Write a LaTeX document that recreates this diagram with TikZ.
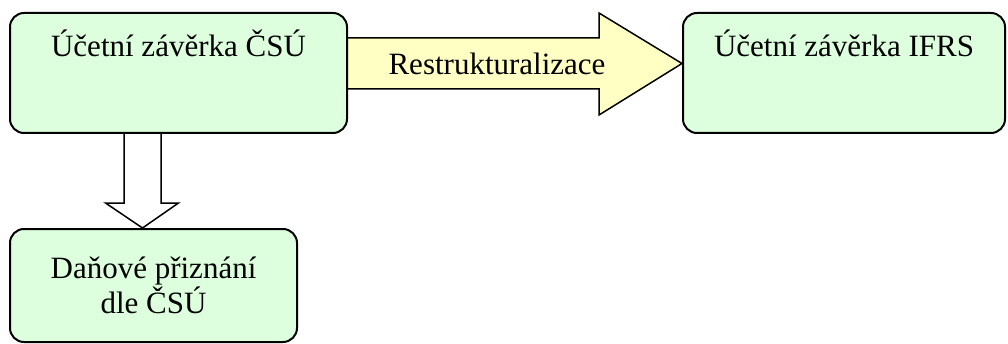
\documentclass[tikz,border=0pt]{standalone}
\usepackage{fontspec}
\setmainfont{Liberation Serif}
\usepackage{tikz}
\usetikzlibrary{calc}
\pgfdeclarelayer{background}
\pgfsetlayers{background,main}

\definecolor{boxgreen}{RGB}{221,255,221}
\definecolor{arrowyellow}{RGB}{255,255,196}

\tikzset{
  statement/.style={draw, line width=2pt, rounded corners=14pt, fill=boxgreen, inner sep=0pt},
  bigarrow/.style={draw, line width=1.5pt, line join=miter},
  lbl/.style={font=\fontsize{31}{35}\selectfont, align=center, inner sep=0pt}
}

\begin{document}
\begin{tikzpicture}[x=1pt, y=1pt]
\useasboundingbox (0,0) rectangle (1008,343);

\node [statement, minimum width=337, minimum height=120] (CSU) at (178.5,270) {};
\node [statement, minimum width=322, minimum height=120] (IFRS) at (844,270) {};
\node [statement, minimum width=287, minimum height=113] (DAN) at (153.5,57.5) {};

\node [lbl, anchor=base] (CSUtext) at ($(CSU.north)+(0,-45)$) {Účetní závěrka ČSÚ};
\node [lbl, anchor=base] (IFRStext) at ($(IFRS.north)+(0,-45)$) {Účetní závěrka IFRS};
\node [lbl] (DANtext) at (DAN.center) {Daňové přiznání\\dle ČSÚ};

% restructuring arrow
\coordinate (Rs) at ($(CSU.east)+(0,9.5)$);
\coordinate (Rt) at (IFRS.west |- Rs);
% tax arrow
\coordinate (Ds) at ($(CSU.south)+(-36,0)$);
\coordinate (Dt) at (Ds |- DAN.north);

\begin{pgfonlayer}{background}
\draw [bigarrow, fill=arrowyellow]
  ($(Rs)+(0,25.5)$) -- ($(Rt)+(-83,25.5)$) -- ($(Rt)+(-83,50.5)$) -- (Rt)
  -- ($(Rt)+(-83,-51.5)$) -- ($(Rt)+(-83,-25.5)$) -- ($(Rs)+(0,-25.5)$);
\draw [bigarrow, fill=white]
  ($(Ds)+(-18.5,0)$) -- ($(Dt)+(-18.5,25)$) -- ($(Dt)+(-37,25)$) -- (Dt)
  -- ($(Dt)+(36,25)$) -- ($(Dt)+(18.5,25)$) -- ($(Ds)+(18.5,0)$);
\end{pgfonlayer}

\node [lbl] (Rtext) at ($(Rs)!0.5!(Rt)+(-18,0)$) {Restrukturalizace};

\end{tikzpicture}
\end{document}
